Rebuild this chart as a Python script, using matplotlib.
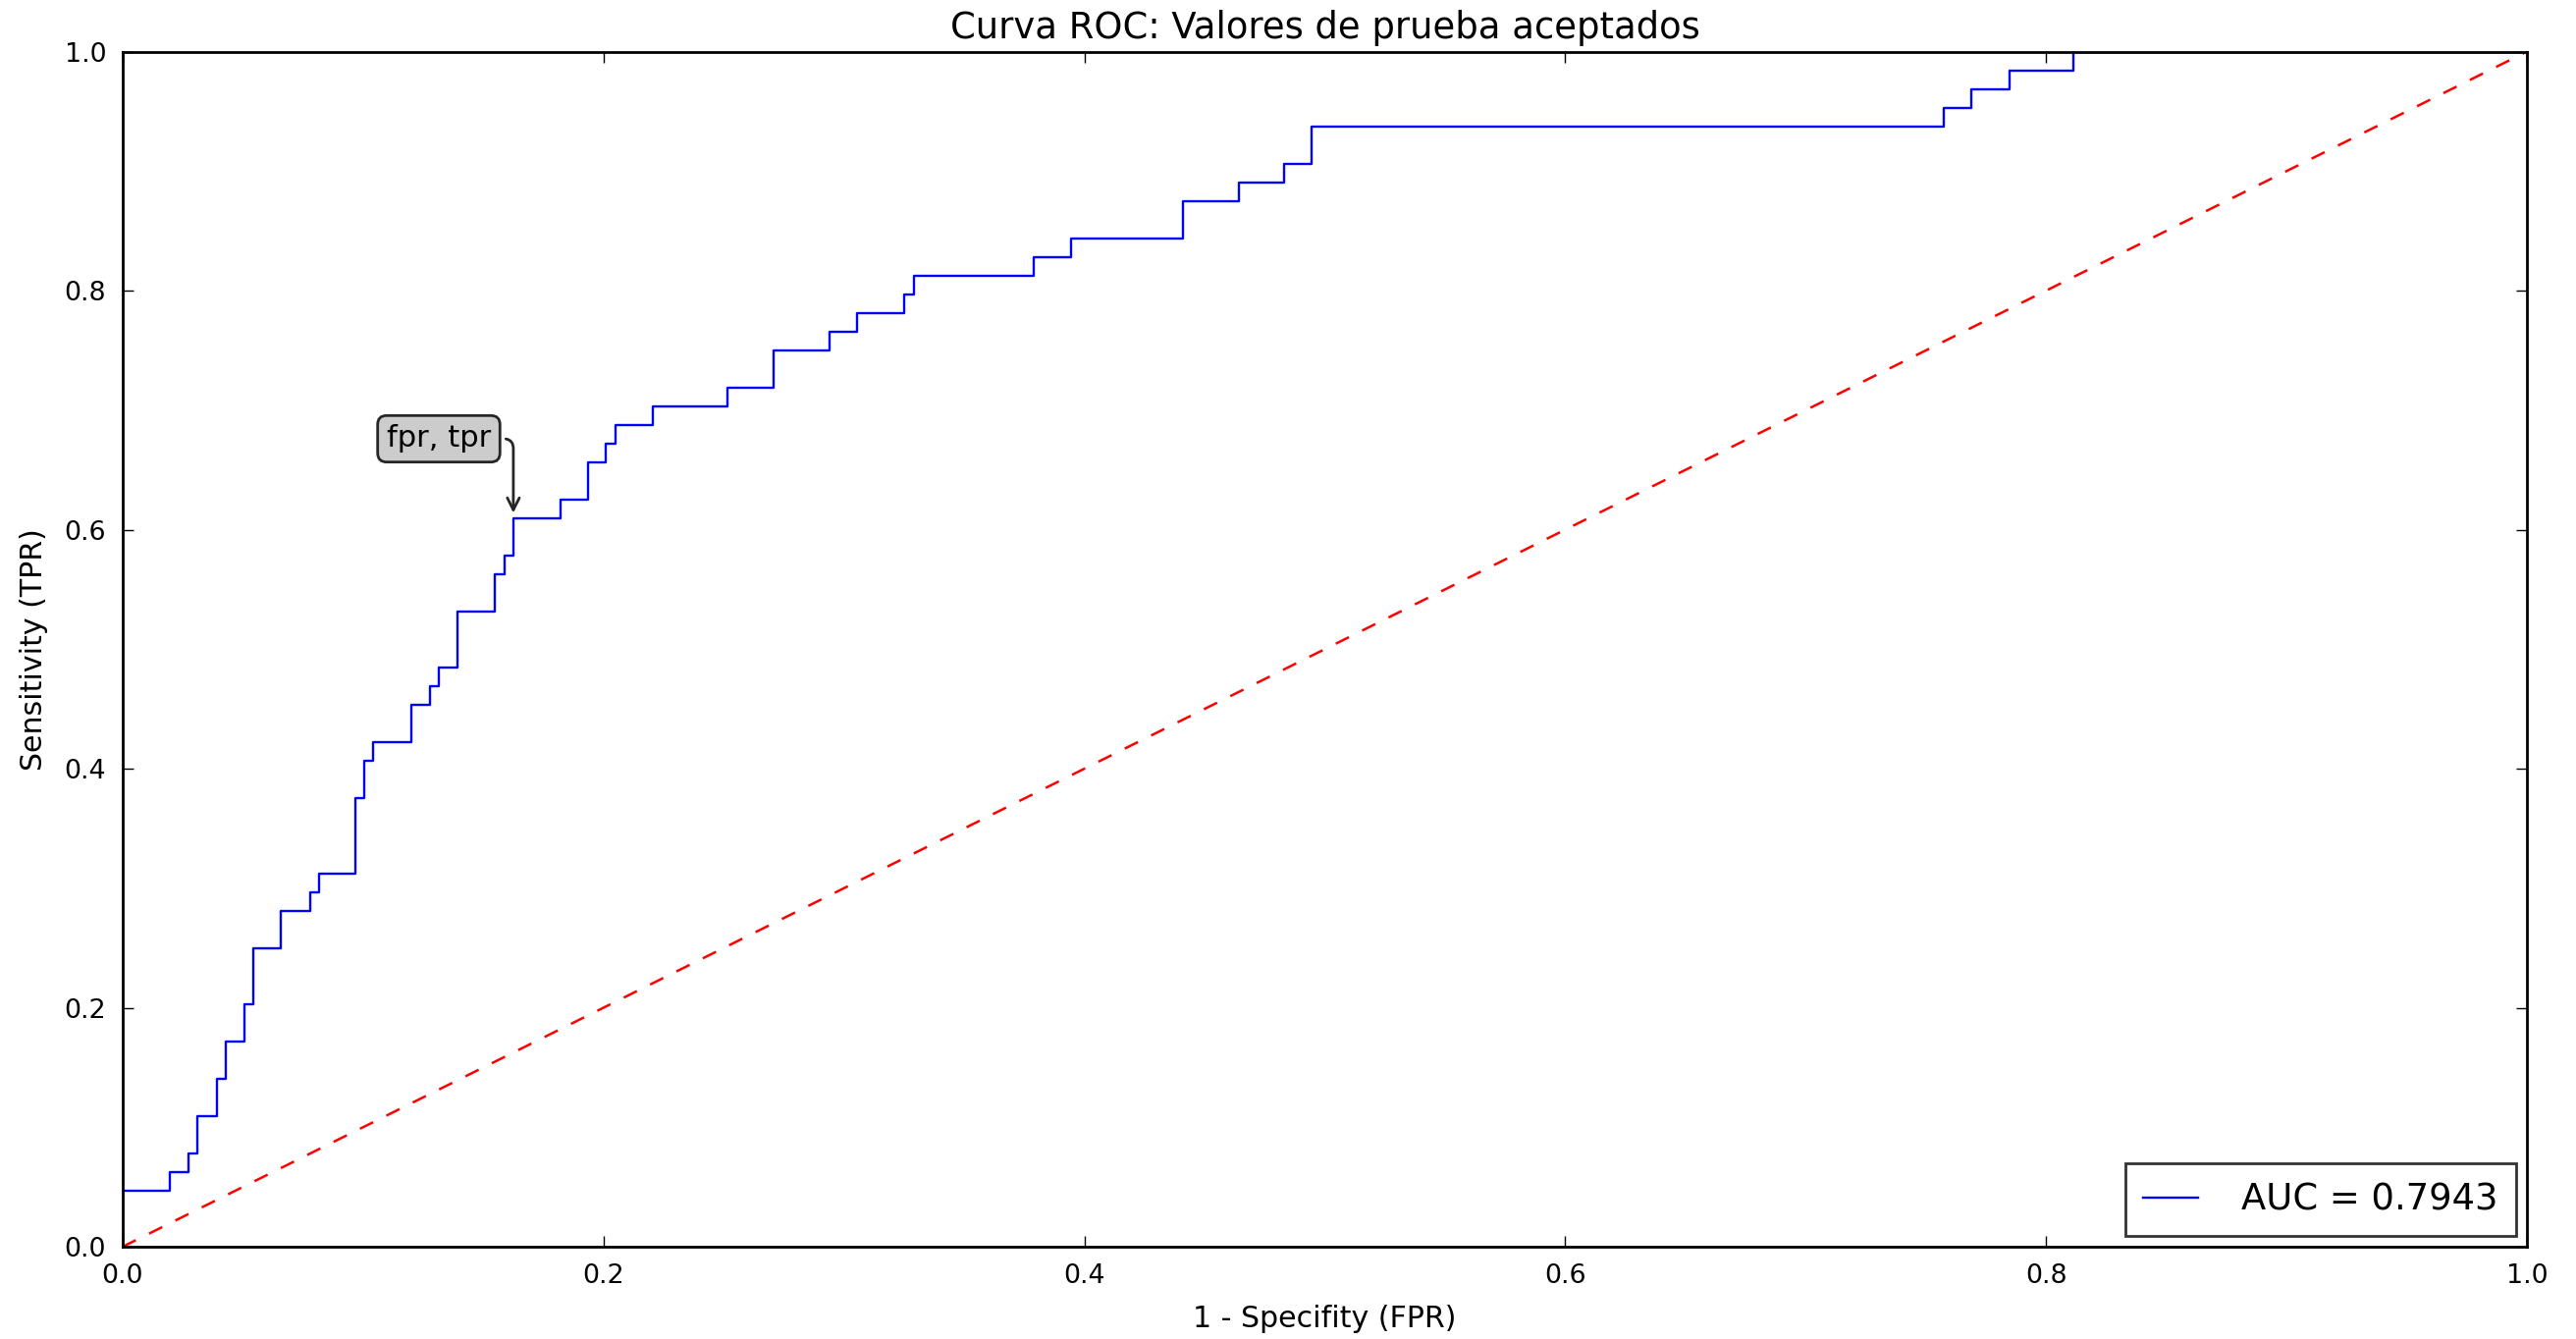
import matplotlib
matplotlib.use("Agg")
import matplotlib.pyplot as plt

# puntos de la curva ROC (esquinas de la escalera)
fpr = [0.0, 0.0, 0.0197, 0.0197, 0.0272, 0.0272, 0.0310, 0.0310, 0.0392, 0.0392,
       0.0430, 0.0430, 0.0507, 0.0507, 0.0545, 0.0545, 0.0658, 0.0658, 0.0779, 0.0779,
       0.0817, 0.0817, 0.0967, 0.0967, 0.1005, 0.1005, 0.1043, 0.1043, 0.1202, 0.1202,
       0.1278, 0.1278, 0.1315, 0.1315, 0.1391, 0.1391, 0.1549, 0.1549, 0.1587, 0.1587,
       0.1625, 0.1625, 0.1820, 0.1820, 0.1935, 0.1935, 0.2010, 0.2010, 0.2049, 0.2049,
       0.2206, 0.2206, 0.2517, 0.2517, 0.2707, 0.2707, 0.2942, 0.2942, 0.3054, 0.3054,
       0.3252, 0.3252, 0.3290, 0.3290, 0.3788, 0.3788, 0.3946, 0.3946, 0.4408, 0.4408,
       0.4642, 0.4642, 0.4830, 0.4830, 0.4944, 0.4944, 0.7576, 0.7576, 0.7689, 0.7689,
       0.7846, 0.7846, 0.8112, 0.8112, 1.0]
tpr = [0.0, 0.0469, 0.0469, 0.0625, 0.0625, 0.0781, 0.0781, 0.1094, 0.1094, 0.1406,
       0.1406, 0.1719, 0.1719, 0.2031, 0.2031, 0.2500, 0.2500, 0.2813, 0.2813, 0.2969,
       0.2969, 0.3125, 0.3125, 0.3750, 0.3750, 0.4063, 0.4063, 0.4219, 0.4219, 0.4531,
       0.4531, 0.4688, 0.4688, 0.4844, 0.4844, 0.5313, 0.5313, 0.5625, 0.5625, 0.5781,
       0.5781, 0.6094, 0.6094, 0.6250, 0.6250, 0.6563, 0.6563, 0.6719, 0.6719, 0.6875,
       0.6875, 0.7031, 0.7031, 0.7188, 0.7188, 0.7500, 0.7500, 0.7656, 0.7656, 0.7813,
       0.7813, 0.7969, 0.7969, 0.8125, 0.8125, 0.8281, 0.8281, 0.8438, 0.8438, 0.8750,
       0.8750, 0.8906, 0.8906, 0.9063, 0.9063, 0.9375, 0.9375, 0.9531, 0.9531, 0.9688,
       0.9688, 0.9844, 0.9844, 1.0, 1.0]
roc_auc = 0.7943
punto = (0.1625, 0.6094)
ticks = [0.0, 0.2, 0.4, 0.6, 0.8, 1.0]

plt.rcParams['font.family'] = 'DejaVu Sans'

fig = plt.figure(figsize=(13.12, 6.82), dpi=200)
ax = fig.add_axes([0.0476, 0.0689, 0.9334, 0.8926])

ax.plot(fpr, tpr, color='b', lw=0.85, label='AUC = %0.4f' % roc_auc)
ax.plot([0, 1], [0, 1], color='r', lw=0.9, linestyle=(0, (6, 6)))

ax.annotate('fpr, tpr', xy=punto, xytext=(0.1315, 0.676), textcoords='data',
            ha='center', va='center', fontsize=11,
            bbox=dict(boxstyle='round,pad=0.3', fc='0.8', ec='0.15', lw=1),
            arrowprops=dict(arrowstyle='->', color='0.15', lw=1,
                            connectionstyle='angle,angleA=0,angleB=90,rad=10'))

ax.set_xlim(0, 1)
ax.set_ylim(0, 1)
ax.set_xticks(ticks)
ax.set_yticks(ticks)
ax.tick_params(direction='in', top=True, right=True, length=4, width=0.5, labelsize=9.7, pad=6)
for s in ax.spines.values():
    s.set_linewidth(1.0)

ax.set_title('Curva ROC: Valores de prueba aceptados', fontsize=13.3, pad=5)
ax.set_xlabel('1 - Specifity (FPR)', fontsize=10.8, labelpad=6)
ax.set_ylabel('Sensitivity (TPR)', fontsize=10.8, labelpad=6)

leg = ax.legend(loc='lower right', fontsize=13.3, fancybox=False, handlelength=1.5,
                handletextpad=1.2, borderpad=0.5, borderaxespad=0.3)
leg.get_frame().set_edgecolor('black')
leg.get_frame().set_linewidth(1.0)

fig.savefig('out.png', dpi=200)
